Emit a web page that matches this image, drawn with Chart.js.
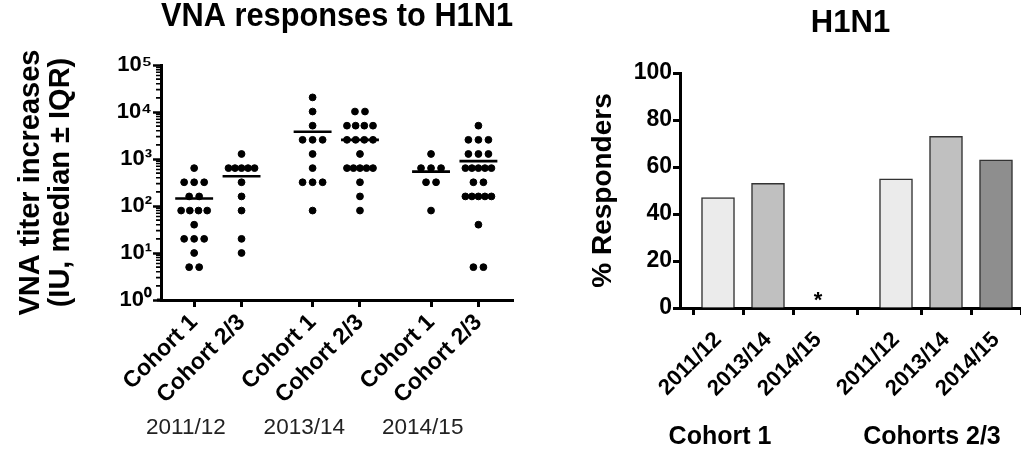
<!DOCTYPE html>
<html><head><meta charset="utf-8">
<script src="https://cdn.jsdelivr.net/npm/chart.js@4.4.1/dist/chart.umd.min.js"></script>
<style>
html,body{margin:0;padding:0;background:#fff;}
#wrap{position:relative;width:1021px;height:450px;overflow:hidden;}
#c1{position:absolute;left:0;top:0;}
#c2{position:absolute;left:560px;top:0;}
</style></head><body>
<div id="wrap">
<canvas id="c1" width="560" height="450"></canvas>
<canvas id="c2" width="461" height="450"></canvas>
</div>
<script>
// ---------- data: left panel (VNA titer increases, IU) ----------
const seasons = ['2011/12', '2013/14', '2014/15'];
const cohorts = ['Cohort 1', 'Cohort 2/3'];
const c1_2011 = [640, 320, 320, 320, 160, 160, 80, 80, 80, 80, 40, 20, 20, 20, 10, 5, 5];
const c23_2011 = [1280, 640, 640, 640, 640, 640, 320, 160, 80, 20, 10];
const c1_2013 = [20480, 10240, 5120, 2560, 2560, 2560, 1280, 640, 320, 320, 320, 80];
const c23_2013 = [10240, 10240, 5120, 5120, 5120, 5120, 2560, 2560, 2560, 2560, 1280, 640, 640, 640, 640, 640, 320, 160, 80];
const c1_2014 = [1280, 640, 640, 640, 320, 320, 80];
const c23_2014 = [5120, 2560, 2560, 2560, 1280, 1280, 1280, 640, 640, 640, 640, 640, 320, 320, 160, 160, 160, 160, 160, 40, 5, 5];
const medians = [145, 430, 3800, 2560, 540, 900];
const yTickLabels = ['10⁰', '10¹', '10²', '10³', '10⁴', '10⁵'];

// ---------- data: right panel (% responders) ----------
const barGroups = ['Cohort 1', 'Cohorts 2/3'];
const barSeasons = ['2011/12', '2013/14', '2014/15'];
const respC1 = [47, 53, 0];
const respC23 = [55, 73, 63];
const respTicks = [0, 20, 40, 60, 80, 100];

// ---------- styling ----------
Chart.defaults.font.family = "'Liberation Sans', Arial, sans-serif";
Chart.defaults.color = '#000';
const FONT = "'Liberation Sans', Arial, sans-serif";
const noPad = s => { s.paddingLeft = 0; s.paddingRight = 0; s.paddingTop = 0; s.paddingBottom = 0; };

// ---------- left chart ----------
const groups = [c1_2011, c23_2011, c1_2013, c23_2013, c1_2014, c23_2014];
const PX = 47.3;                    // px per x unit (for spreading dots)
const pos = i => Math.floor(i / 2) * 2.5 + (i % 2) + 1;
const dots = [];
groups.forEach((vals, i) => {
  const counts = {};
  vals.forEach(v => counts[v] = (counts[v] || 0) + 1);
  Object.keys(counts).forEach(k => {
    const n = counts[k];
    const s = n > 1 ? Math.min(10, 26 / (n - 1)) : 0;
    for (let j = 0; j < n; j++) dots.push({x: pos(i) + (j - (n - 1) / 2) * s / PX, y: +k});
  });
});
const medLine = [];
medians.forEach((m, i) => {
  medLine.push({x: pos(i) - 0.4, y: m}, {x: pos(i) + 0.4, y: m}, {x: pos(i) + 0.45, y: null});
});

const leftDeco = {
  id: 'leftDeco',
  afterDraw(chart) {
    const ctx = chart.ctx, ys = chart.scales.y, xs = chart.scales.x;
    ctx.save();
    ctx.strokeStyle = '#000';
    ctx.lineWidth = 1.6;
    ctx.beginPath();
    for (let k = 0; k < 5; k++) {
      for (let m = 2; m <= 9; m++) {
        const py = ys.getPixelForValue(m * Math.pow(10, k));
        ctx.moveTo(ys.right - 5, py);
        ctx.lineTo(ys.right, py);
      }
    }
    ctx.stroke();
    // x axis line runs slightly left of the y axis
    ctx.lineWidth = 3;
    ctx.beginPath();
    const by = xs.top;
    ctx.moveTo(xs.left - 4, by);
    ctx.lineTo(xs.left, by);
    ctx.stroke();
    ctx.fillStyle = '#222';
    ctx.font = '22.5px ' + FONT;
    ctx.textAlign = 'center';
    ctx.textBaseline = 'middle';
    seasons.forEach((s, g) => {
      const cx = (xs.getPixelForValue(pos(2 * g)) + xs.getPixelForValue(pos(2 * g + 1))) / 2 - 32;
      ctx.fillText(s, cx, 428);
    });
    ctx.restore();
  }
};

new Chart(document.getElementById('c1'), {
  type: 'scatter',
  data: {
    datasets: [
      {data: dots, backgroundColor: '#000', borderColor: '#000', pointRadius: 3.4, pointHoverRadius: 3.4},
      {type: 'line', data: medLine, borderColor: '#000', borderWidth: 2.6, pointRadius: 0, spanGaps: false, fill: false}
    ]
  },
  options: {
    responsive: false, animation: false,
    layout: {padding: {left: 0, right: 47, top: 0, bottom: 0}},
    plugins: {
      legend: {display: false}, tooltip: {enabled: false},
      title: {display: true, text: 'VNA responses to H1N1', fullSize: false,
        font: {size: 32.5, weight: 'bold', lineHeight: 1.05}, color: '#000', padding: {top: 0, bottom: 30.9}}
    },
    scales: {
      x: {
        type: 'linear', min: 0.3, max: 7.73,
        afterBuildTicks: s => { s.ticks = groups.map((g, i) => ({value: pos(i)})); },
        afterFit: s => { s.height = 150; noPad(s); },
        ticks: {autoSkip: false, minRotation: 45, maxRotation: 45, padding: 2,
          font: {size: 23, weight: 'bold'}, color: '#000',
          callback: (v, idx) => cohorts[idx % 2]},
        grid: {drawOnChartArea: false, tickLength: 7, tickWidth: 3, tickColor: '#000'},
        border: {display: true, color: '#000', width: 3}
      },
      y: {
        type: 'logarithmic', min: 1, max: 100000,
        afterBuildTicks: s => { s.ticks = yTickLabels.map((t, k) => ({value: Math.pow(10, k)})); },
        afterFit: s => { s.width = 161; },
        ticks: {autoSkip: false, padding: 1, font: {size: 22, weight: 'bold'}, color: '#000',
          callback: (v, idx) => yTickLabels[idx]},
        grid: {drawOnChartArea: false, tickLength: 8, tickWidth: 2.5, tickColor: '#000'},
        border: {display: true, color: '#000', width: 3},
        title: {display: true, text: ['VNA titer increases', '(IU, median ± IQR)'],
          font: {size: 29, weight: 'bold', lineHeight: 1.05}, color: '#000', padding: {top: 15.8, bottom: 0}}
      }
    }
  },
  plugins: [leftDeco]
});

// ---------- right chart ----------
const bpos = (g, j) => g * 3.56 + j + 1;
const barData = [];
const barColors = [];
const shades = ['#ebebeb', '#c0c0c0', '#8e8e8e'];
[respC1, respC23].forEach((arr, g) => {
  arr.forEach((v, j) => { barData.push({x: bpos(g, j), y: v}); barColors.push(shades[j]); });
});
const labelShift = [-48, -14];

const rightDeco = {
  id: 'rightDeco',
  afterDraw(chart) {
    const ctx = chart.ctx, xs = chart.scales.x, ys = chart.scales.y;
    ctx.save();
    ctx.fillStyle = '#000';
    ctx.textAlign = 'center';
    ctx.textBaseline = 'middle';
    ctx.font = 'bold 22px ' + FONT;
    [respC1, respC23].forEach((arr, g) => {
      arr.forEach((v, j) => {
        if (v === 0) ctx.fillText('*', xs.getPixelForValue(bpos(g, j)), ys.getPixelForValue(0) - 7);
      });
    });
    ctx.font = 'bold 25px ' + FONT;
    barGroups.forEach((name, g) => {
      const cx = xs.getPixelForValue(bpos(g, 1)) + labelShift[g];
      ctx.fillText(name, cx, 437);
    });
    ctx.restore();
  }
};

new Chart(document.getElementById('c2'), {
  type: 'bar',
  data: {
    datasets: [{data: barData, backgroundColor: barColors, borderColor: '#333', borderWidth: 1.5,
      barThickness: 33, borderSkipped: 'bottom'}]
  },
  options: {
    responsive: false, animation: false,
    layout: {padding: 0},
    plugins: {
      legend: {display: false}, tooltip: {enabled: false},
      title: {display: true, text: 'H1N1', fullSize: false,
        font: {size: 31, weight: 'bold', lineHeight: 1.2}, color: '#000', padding: {top: 4.4, bottom: 31.4}}
    },
    scales: {
      x: {
        type: 'linear', min: 0.24, max: 7.06, offset: false,
        afterBuildTicks: s => { s.ticks = barData.map(d => ({value: d.x})); },
        afterFit: s => { s.height = 142; noPad(s); },
        ticks: {autoSkip: false, minRotation: 45, maxRotation: 45, padding: 12,
          font: {size: 22, weight: 'bold'}, color: '#000',
          callback: (v, idx) => barSeasons[idx % 3]},
        grid: {drawOnChartArea: false, tickLength: 7, tickWidth: 3, tickColor: '#000'},
        border: {display: true, color: '#000', width: 3}
      },
      y: {
        min: 0, max: 100,
        afterBuildTicks: s => { s.ticks = respTicks.map(v => ({value: v})); },
        afterFit: s => { s.width = 120; },
        ticks: {autoSkip: false, padding: 1, font: {size: 23, weight: 'bold'}, color: '#000'},
        grid: {drawOnChartArea: false, tickLength: 7, tickWidth: 3, tickColor: '#000'},
        border: {display: true, color: '#000', width: 3},
        title: {display: true, text: '% Responders',
          font: {size: 28, weight: 'bold', lineHeight: 1.2}, color: '#000', padding: {top: 26, bottom: 0}}
      }
    }
  },
  plugins: [rightDeco]
});
</script>
</body></html>
